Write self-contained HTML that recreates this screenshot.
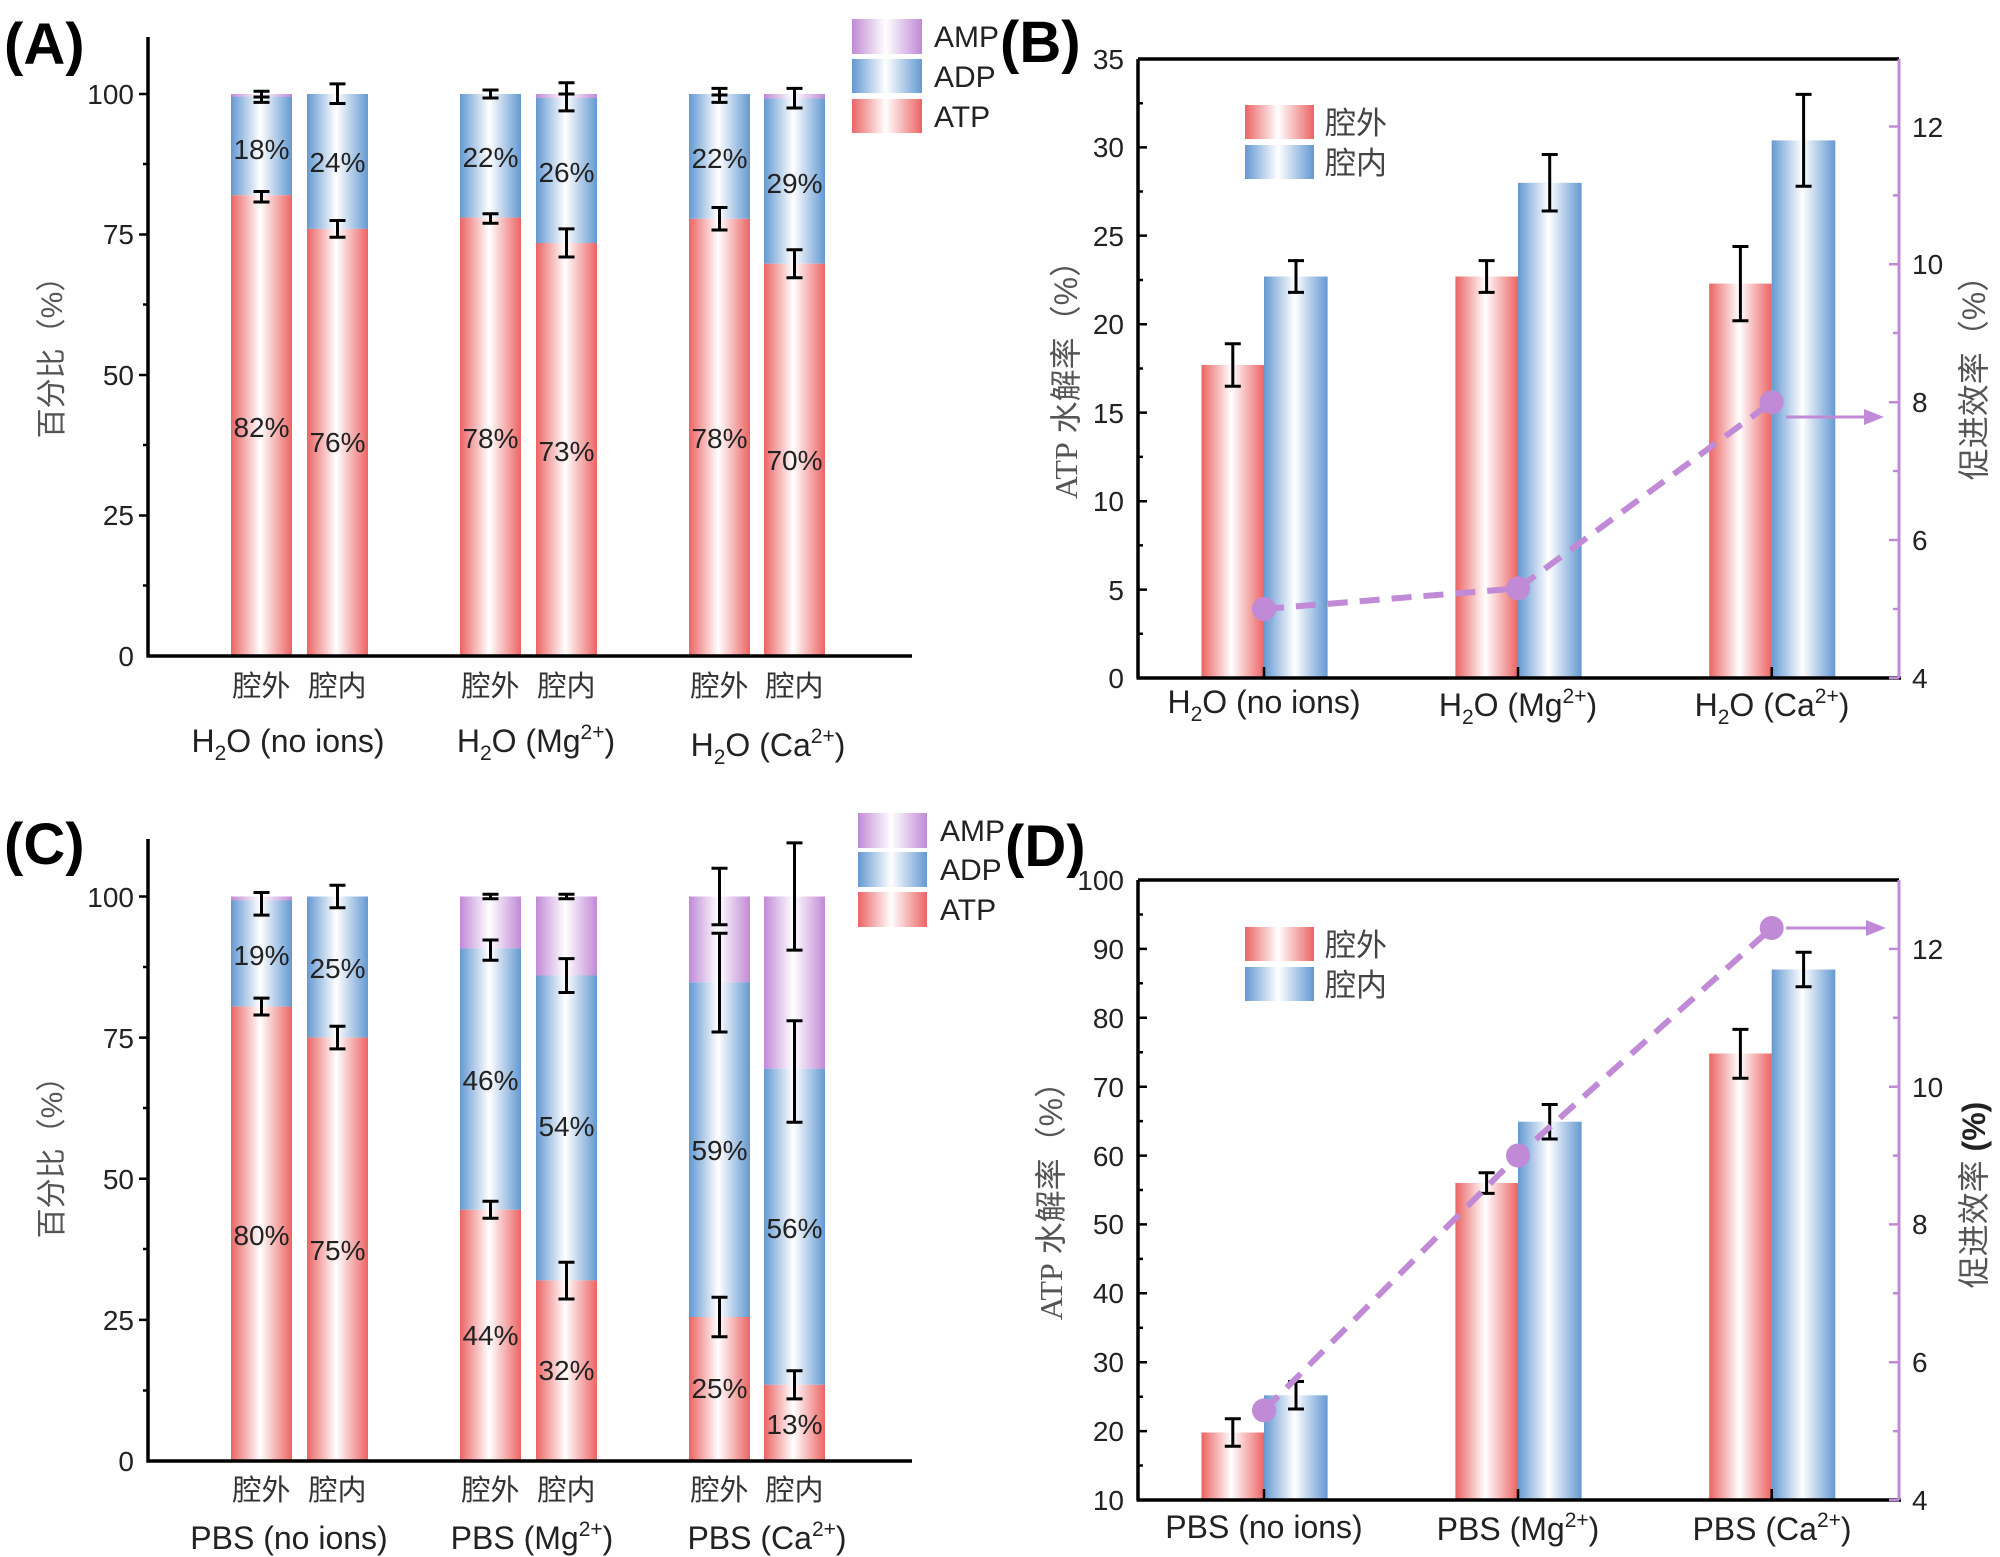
<!DOCTYPE html>
<html><head><meta charset="utf-8"><style>
html,body{margin:0;padding:0;background:#fff}
svg{display:block}
text{font-family:"Liberation Sans","Noto Sans CJK SC",sans-serif}
</style></head><body>
<svg width="2000" height="1557" viewBox="0 0 2000 1557" xmlns="http://www.w3.org/2000/svg">
<defs>
<linearGradient id="gr" x1="0" x2="1" y1="0" y2="0"><stop offset="0" stop-color="#ec6464"/><stop offset="0.48" stop-color="#fff"/><stop offset="1" stop-color="#ec6464"/></linearGradient>
<linearGradient id="gb" x1="0" x2="1" y1="0" y2="0"><stop offset="0" stop-color="#6499d2"/><stop offset="0.48" stop-color="#fff"/><stop offset="1" stop-color="#6499d2"/></linearGradient>
<linearGradient id="gp" x1="0" x2="1" y1="0" y2="0"><stop offset="0" stop-color="#c08ad6"/><stop offset="0.48" stop-color="#fff"/><stop offset="1" stop-color="#c08ad6"/></linearGradient>
</defs>

<!-- ========== Panel A ========== -->
<text x="4" y="64" font-size="58" font-weight="bold">(A)</text>
<g>
<rect x="231" y="94" width="61" height="3" fill="url(#gp)"/>
<rect x="231" y="96.8" width="61" height="98.4" fill="url(#gb)"/>
<rect x="231" y="195.2" width="61" height="460.8" fill="url(#gr)"/>
<rect x="307" y="94" width="61" height="134.9" fill="url(#gb)"/>
<rect x="307" y="228.9" width="61" height="427.1" fill="url(#gr)"/>
<rect x="460" y="94" width="61" height="123.6" fill="url(#gb)"/>
<rect x="460" y="217.6" width="61" height="438.4" fill="url(#gr)"/>
<rect x="536" y="94" width="61" height="4" fill="url(#gp)"/>
<rect x="536" y="98" width="61" height="145" fill="url(#gb)"/>
<rect x="536" y="243" width="61" height="413" fill="url(#gr)"/>
<rect x="689" y="94" width="61" height="124.8" fill="url(#gb)"/>
<rect x="689" y="218.8" width="61" height="437.2" fill="url(#gr)"/>
<rect x="764" y="94" width="61" height="4.5" fill="url(#gp)"/>
<rect x="764" y="98.5" width="61" height="165.2" fill="url(#gb)"/>
<rect x="764" y="263.7" width="61" height="392.3" fill="url(#gr)"/>
</g>
<g stroke="#000" stroke-width="3" fill="none">
<path d="M261.5 91.2V102.4M253.5 91.2H269.5M253.5 102.4H269.5M253.5 97H269.5"/>
<path d="M261.5 191.5V202M253.5 191.5H269.5M253.5 202H269.5"/>
<path d="M337.5 83.9V103.5M329.5 83.9H345.5M329.5 103.5H345.5"/>
<path d="M337.5 220.5V237.3M329.5 220.5H345.5M329.5 237.3H345.5"/>
<path d="M490.5 90V98M482.5 90H498.5M482.5 98H498.5"/>
<path d="M490.5 213.7V223.3M482.5 213.7H498.5M482.5 223.3H498.5"/>
<path d="M566.5 82.8V110.9M558.5 82.8H574.5M558.5 110.9H574.5M558.5 94H574.5"/>
<path d="M566.5 228.9V257M558.5 228.9H574.5M558.5 257H574.5"/>
<path d="M719.5 88.4V102.4M711.5 88.4H727.5M711.5 102.4H727.5M711.5 95H727.5"/>
<path d="M719.5 207.5V230M711.5 207.5H727.5M711.5 230H727.5"/>
<path d="M794.5 88.4V108M786.5 88.4H802.5M786.5 108H802.5"/>
<path d="M794.5 249.7V277.8M786.5 249.7H802.5M786.5 277.8H802.5"/>
</g>
<g font-size="28" text-anchor="middle" fill="#222">
<text x="261.5" y="159">18%</text><text x="337.5" y="172">24%</text>
<text x="490.5" y="167">22%</text><text x="566.5" y="182">26%</text>
<text x="719.5" y="168">22%</text><text x="794.5" y="193">29%</text>
<text x="261.5" y="437">82%</text><text x="337.5" y="452">76%</text>
<text x="490.5" y="448">78%</text><text x="566.5" y="461">73%</text>
<text x="719.5" y="448">78%</text><text x="794.5" y="470">70%</text>
</g>
<g stroke="#000" stroke-width="3.5" fill="none">
<path d="M148 37V657.5M146.5 656H912"/>
<path d="M139 94H148M139 234.5H148M139 375H148M139 515.5H148M143 164H148M143 304.5H148M143 445H148M143 585.5H148" stroke-width="2.5"/>
</g>
<g font-size="28" text-anchor="end" fill="#222">
<text x="134" y="104">100</text><text x="134" y="244">75</text><text x="134" y="385">50</text><text x="134" y="525">25</text><text x="134" y="666">0</text>
</g>
<text transform="translate(62,350) rotate(-90)" font-size="30" text-anchor="middle" fill="#555">百分比（%）</text>
<g font-size="29" text-anchor="middle" fill="#333">
<text x="261.5" y="696">腔外</text><text x="337.5" y="696">腔内</text>
<text x="490.5" y="696">腔外</text><text x="566.5" y="696">腔内</text>
<text x="719.5" y="696">腔外</text><text x="794.5" y="696">腔内</text>
</g>
<g font-size="32" text-anchor="middle" fill="#222">
<text x="288" y="752">H<tspan font-size="21" dy="8">2</tspan><tspan dy="-8">O (no ions)</tspan></text>
<text x="536" y="752">H<tspan font-size="21" dy="8">2</tspan><tspan dy="-8">O (Mg</tspan><tspan font-size="21" dy="-13">2+</tspan><tspan dy="13">)</tspan></text>
<text x="768" y="756">H<tspan font-size="21" dy="8">2</tspan><tspan dy="-8">O (Ca</tspan><tspan font-size="21" dy="-13">2+</tspan><tspan dy="13">)</tspan></text>
</g>
<rect x="852" y="19" width="70" height="35" fill="url(#gp)"/>
<rect x="852" y="59" width="70" height="34" fill="url(#gb)"/>
<rect x="852" y="99" width="70" height="34" fill="url(#gr)"/>
<g font-size="30" fill="#222"><text x="934" y="47">AMP</text><text x="934" y="87">ADP</text><text x="934" y="127">ATP</text></g>

<!-- ========== Panel B ========== -->
<g>
<rect x="1201.5" y="365" width="62.5" height="313" fill="url(#gr)"/>
<rect x="1264" y="276.5" width="63.6" height="401.5" fill="url(#gb)"/>
<rect x="1455.4" y="276.5" width="62.6" height="401.5" fill="url(#gr)"/>
<rect x="1518" y="182.8" width="63.6" height="495.2" fill="url(#gb)"/>
<rect x="1709.2" y="283.6" width="62.5" height="394.4" fill="url(#gr)"/>
<rect x="1771.7" y="140.4" width="63.6" height="537.6" fill="url(#gb)"/>
</g>
<g stroke="#000" stroke-width="3" fill="none">
<path d="M1232.8 343.7V386.2M1224.8 343.7H1240.8M1224.8 386.2H1240.8"/>
<path d="M1296 260.6V292.4M1288 260.6H1304M1288 292.4H1304"/>
<path d="M1486.6 260.6V292.4M1478.6 260.6H1494.6M1478.6 292.4H1494.6"/>
<path d="M1549.7 154.5V211M1541.7 154.5H1557.7M1541.7 211H1557.7"/>
<path d="M1740.4 246.5V320.7M1732.4 246.5H1748.4M1732.4 320.7H1748.4"/>
<path d="M1803.6 94.4V186.3M1795.6 94.4H1811.6M1795.6 186.3H1811.6"/>
</g>
<polyline points="1264,609 1518,588.4 1771.7,402.2" fill="none" stroke="#c08ad6" stroke-width="6" stroke-dasharray="20 12"/>
<g fill="#c08ad6"><circle cx="1264" cy="609" r="12"/><circle cx="1518" cy="588.4" r="12"/><circle cx="1771.7" cy="402.2" r="12"/></g>
<path d="M1786 417H1868" stroke="#c08ad6" stroke-width="3"/><path d="M1864 409L1884 417L1864 425Z" fill="#c08ad6"/>
<g stroke="#000" stroke-width="3.5" fill="none">
<path d="M1138 59V678M1136.5 678H1901M1138 59H1899"/>
<path d="M1138 589.6H1147M1138 501.2H1147M1138 412.6H1147M1138 324.3H1147M1138 235.6H1147M1138 147.4H1147M1138 633.8H1143M1138 545.4H1143M1138 456.9H1143M1138 368.5H1143M1138 280H1143M1138 191.5H1143M1138 103.2H1143M1264 678V667M1518 678V667M1771.7 678V667" stroke-width="2.5"/>
</g>
<g stroke="#c08ad6" stroke-width="3" fill="none">
<path d="M1899 59V678"/>
<path d="M1889 678H1899M1889 540H1899M1889 402.2H1899M1889 264.3H1899M1889 126.5H1899M1893 609H1899M1893 471H1899M1893 333H1899M1893 195.4H1899" stroke-width="2.5"/>
</g>
<g font-size="28" text-anchor="end" fill="#222">
<text x="1124" y="688">0</text><text x="1124" y="600">5</text><text x="1124" y="511">10</text><text x="1124" y="423">15</text><text x="1124" y="334">20</text><text x="1124" y="246">25</text><text x="1124" y="157">30</text><text x="1124" y="69">35</text>
</g>
<g font-size="28" fill="#222">
<text x="1912" y="688">4</text><text x="1912" y="550">6</text><text x="1912" y="412">8</text><text x="1912" y="274">10</text><text x="1912" y="137">12</text>
</g>
<text x="1000" y="62" font-size="58" font-weight="bold">(B)</text>
<rect x="1245" y="105" width="69" height="34" fill="url(#gr)"/>
<rect x="1245" y="145" width="69" height="34" fill="url(#gb)"/>
<g font-size="31" fill="#444"><text x="1325" y="134">腔外</text><text x="1325" y="174">腔内</text></g>
<g font-size="32" text-anchor="middle" fill="#222">
<text x="1264" y="713">H<tspan font-size="21" dy="8">2</tspan><tspan dy="-8">O (no ions)</tspan></text>
<text x="1518" y="716">H<tspan font-size="21" dy="8">2</tspan><tspan dy="-8">O (Mg</tspan><tspan font-size="21" dy="-13">2+</tspan><tspan dy="13">)</tspan></text>
<text x="1772" y="716">H<tspan font-size="21" dy="8">2</tspan><tspan dy="-8">O (Ca</tspan><tspan font-size="21" dy="-13">2+</tspan><tspan dy="13">)</tspan></text>
</g>
<text transform="translate(1077,372) rotate(-90)" font-size="32" text-anchor="middle" fill="#555"><tspan font-family="Liberation Serif">ATP</tspan> 水解率（%）</text>
<text transform="translate(1985,370) rotate(-90)" font-size="32" text-anchor="middle" fill="#555">促进效率（%）</text>

<!-- ========== Panel C ========== -->
<text x="4" y="864" font-size="58" font-weight="bold">(C)</text>
<g>
<rect x="231" y="896.5" width="61" height="4" fill="url(#gp)"/>
<rect x="231" y="900.4" width="61" height="106.2" fill="url(#gb)"/>
<rect x="231" y="1006.6" width="61" height="454.4" fill="url(#gr)"/>
<rect x="307" y="896.5" width="61" height="141.1" fill="url(#gb)"/>
<rect x="307" y="1037.6" width="61" height="423.4" fill="url(#gr)"/>
<rect x="460" y="896.5" width="61" height="51.9" fill="url(#gp)"/>
<rect x="460" y="948.4" width="61" height="261.4" fill="url(#gb)"/>
<rect x="460" y="1209.8" width="61" height="251.2" fill="url(#gr)"/>
<rect x="536" y="896.5" width="61" height="79" fill="url(#gp)"/>
<rect x="536" y="975.5" width="61" height="304.9" fill="url(#gb)"/>
<rect x="536" y="1280.4" width="61" height="180.6" fill="url(#gr)"/>
<rect x="689" y="896.5" width="61" height="85.8" fill="url(#gp)"/>
<rect x="689" y="982.3" width="61" height="334.7" fill="url(#gb)"/>
<rect x="689" y="1317" width="61" height="144" fill="url(#gr)"/>
<rect x="764" y="896.5" width="61" height="172.2" fill="url(#gp)"/>
<rect x="764" y="1068.7" width="61" height="316.1" fill="url(#gb)"/>
<rect x="764" y="1384.8" width="61" height="76.2" fill="url(#gr)"/>
</g>
<g stroke="#000" stroke-width="3" fill="none">
<path d="M261.5 892.5V915.1M253.5 892.5H269.5M253.5 915.1H269.5"/>
<path d="M261.5 998.1V1015M253.5 998.1H269.5M253.5 1015H269.5"/>
<path d="M337.5 885.2V907.8M329.5 885.2H345.5M329.5 907.8H345.5"/>
<path d="M337.5 1026.3V1048.9M329.5 1026.3H345.5M329.5 1048.9H345.5"/>
<path d="M490.5 894.3V898.8M482.5 894.3H498.5M482.5 898.8H498.5"/>
<path d="M490.5 940V960.3M482.5 940H498.5M482.5 960.3H498.5"/>
<path d="M490.5 1201.3V1218.3M482.5 1201.3H498.5M482.5 1218.3H498.5"/>
<path d="M566.5 894.3V898.8M558.5 894.3H574.5M558.5 898.8H574.5"/>
<path d="M566.5 958.6V992.5M558.5 958.6H574.5M558.5 992.5H574.5"/>
<path d="M566.5 1262.3V1299M558.5 1262.3H574.5M558.5 1299H574.5"/>
<path d="M719.5 868.3V924.7M711.5 868.3H727.5M711.5 924.7H727.5"/>
<path d="M719.5 933.2V1032M711.5 933.2H727.5M711.5 1032H727.5"/>
<path d="M719.5 1297.3V1336.8M711.5 1297.3H727.5M711.5 1336.8H727.5"/>
<path d="M794.5 842.9V950.1M786.5 842.9H802.5M786.5 950.1H802.5"/>
<path d="M794.5 1020.7V1122.3M786.5 1020.7H802.5M786.5 1122.3H802.5"/>
<path d="M794.5 1370.7V1398.9M786.5 1370.7H802.5M786.5 1398.9H802.5"/>
</g>
<g font-size="28" text-anchor="middle" fill="#222">
<text x="261.5" y="965">19%</text><text x="337.5" y="978">25%</text>
<text x="261.5" y="1245">80%</text><text x="337.5" y="1260">75%</text>
<text x="490.5" y="1090">46%</text><text x="566.5" y="1136">54%</text>
<text x="490.5" y="1345">44%</text><text x="566.5" y="1380">32%</text>
<text x="719.5" y="1160">59%</text><text x="794.5" y="1238">56%</text>
<text x="719.5" y="1398">25%</text><text x="794.5" y="1434">13%</text>
</g>
<g stroke="#000" stroke-width="3.5" fill="none">
<path d="M148 839V1462.5M146.5 1461H912"/>
<path d="M139 896.5H148M139 1037.6H148M139 1178.7H148M139 1319.9H148M143 967H148M143 1108H148M143 1249H148M143 1390.5H148" stroke-width="2.5"/>
</g>
<g font-size="28" text-anchor="end" fill="#222">
<text x="134" y="907">100</text><text x="134" y="1048">75</text><text x="134" y="1189">50</text><text x="134" y="1330">25</text><text x="134" y="1471">0</text>
</g>
<text transform="translate(62,1150) rotate(-90)" font-size="30" text-anchor="middle" fill="#555">百分比（%）</text>
<g font-size="29" text-anchor="middle" fill="#333">
<text x="261.5" y="1500">腔外</text><text x="337.5" y="1500">腔内</text>
<text x="490.5" y="1500">腔外</text><text x="566.5" y="1500">腔内</text>
<text x="719.5" y="1500">腔外</text><text x="794.5" y="1500">腔内</text>
</g>
<g font-size="32" text-anchor="middle" fill="#222">
<text x="289" y="1549">PBS (no ions)</text>
<text x="532" y="1549">PBS (Mg<tspan font-size="21" dy="-13">2+</tspan><tspan dy="13">)</tspan></text>
<text x="767" y="1549">PBS (Ca<tspan font-size="21" dy="-13">2+</tspan><tspan dy="13">)</tspan></text>
</g>
<rect x="858" y="813" width="69" height="35" fill="url(#gp)"/>
<rect x="858" y="852" width="69" height="35" fill="url(#gb)"/>
<rect x="858" y="892" width="69" height="35" fill="url(#gr)"/>
<g font-size="30" fill="#222"><text x="940" y="841">AMP</text><text x="940" y="880">ADP</text><text x="940" y="920">ATP</text></g>

<!-- ========== Panel D ========== -->
<g>
<rect x="1201.5" y="1432.5" width="62.5" height="67.5" fill="url(#gr)"/>
<rect x="1264" y="1395.3" width="63.6" height="104.7" fill="url(#gb)"/>
<rect x="1455.4" y="1183" width="62.6" height="317" fill="url(#gr)"/>
<rect x="1518" y="1121.7" width="63.6" height="378.3" fill="url(#gb)"/>
<rect x="1709.2" y="1053.5" width="62.5" height="446.5" fill="url(#gr)"/>
<rect x="1771.7" y="969.5" width="63.6" height="530.5" fill="url(#gb)"/>
</g>
<g stroke="#000" stroke-width="3" fill="none">
<path d="M1232.8 1418.7V1446.3M1224.8 1418.7H1240.8M1224.8 1446.3H1240.8"/>
<path d="M1296 1381.5V1409M1288 1381.5H1304M1288 1409H1304"/>
<path d="M1486.6 1172.7V1193.4M1478.6 1172.7H1494.6M1478.6 1193.4H1494.6"/>
<path d="M1549.7 1104.5V1139M1541.7 1104.5H1557.7M1541.7 1139H1557.7"/>
<path d="M1740.4 1029.4V1078.3M1732.4 1029.4H1748.4M1732.4 1078.3H1748.4"/>
<path d="M1803.6 952.2V986.7M1795.6 952.2H1811.6M1795.6 986.7H1811.6"/>
</g>
<polyline points="1264,1410.4 1518,1155.5 1771.7,928" fill="none" stroke="#c08ad6" stroke-width="6" stroke-dasharray="20 12"/>
<g fill="#c08ad6"><circle cx="1264" cy="1410.4" r="12"/><circle cx="1518" cy="1155.5" r="12"/><circle cx="1771.7" cy="928" r="12"/></g>
<path d="M1786 928H1870" stroke="#c08ad6" stroke-width="3"/><path d="M1866 920L1886 928L1866 936Z" fill="#c08ad6"/>
<g stroke="#000" stroke-width="3.5" fill="none">
<path d="M1138 880V1500M1136.5 1500H1901M1138 880H1899"/>
<path d="M1138 1431.1H1147M1138 1362.2H1147M1138 1293.3H1147M1138 1224.4H1147M1138 1155.6H1147M1138 1086.7H1147M1138 1017.8H1147M1138 948.9H1147M1138 1465.5H1143M1138 1396.7H1143M1138 1327.8H1143M1138 1258.9H1143M1138 1190H1143M1138 1121.1H1143M1138 1052.2H1143M1138 983.3H1143M1138 914.5H1143M1264 1500V1489M1518 1500V1489M1771.7 1500V1489" stroke-width="2.5"/>
</g>
<g stroke="#c08ad6" stroke-width="3" fill="none">
<path d="M1899 880V1500"/>
<path d="M1889 1500H1899M1889 1362.2H1899M1889 1224.4H1899M1889 1086.7H1899M1889 948.9H1899M1893 1431.1H1899M1893 1293.3H1899M1893 1155.6H1899M1893 1017.8H1899" stroke-width="2.5"/>
</g>
<g font-size="28" text-anchor="end" fill="#222">
<text x="1124" y="1510">10</text><text x="1124" y="1441">20</text><text x="1124" y="1372">30</text><text x="1124" y="1303">40</text><text x="1124" y="1234">50</text><text x="1124" y="1166">60</text><text x="1124" y="1097">70</text><text x="1124" y="1028">80</text><text x="1124" y="959">90</text><text x="1124" y="890">100</text>
</g>
<g font-size="28" fill="#222">
<text x="1912" y="1510">4</text><text x="1912" y="1372">6</text><text x="1912" y="1234">8</text><text x="1912" y="1097">10</text><text x="1912" y="959">12</text>
</g>
<text x="1005" y="866" font-size="58" font-weight="bold">(D)</text>
<rect x="1245" y="927" width="69" height="34" fill="url(#gr)"/>
<rect x="1245" y="967" width="69" height="34" fill="url(#gb)"/>
<g font-size="31" fill="#444"><text x="1325" y="956">腔外</text><text x="1325" y="996">腔内</text></g>
<g font-size="32" text-anchor="middle" fill="#222">
<text x="1264" y="1538">PBS (no ions)</text>
<text x="1518" y="1540">PBS (Mg<tspan font-size="21" dy="-13">2+</tspan><tspan dy="13">)</tspan></text>
<text x="1772" y="1540">PBS (Ca<tspan font-size="21" dy="-13">2+</tspan><tspan dy="13">)</tspan></text>
</g>
<text transform="translate(1062,1193) rotate(-90)" font-size="32" text-anchor="middle" fill="#555"><tspan font-family="Liberation Serif">ATP</tspan> 水解率（%）</text>
<text transform="translate(1985,1195) rotate(-90)" font-size="32" text-anchor="middle" fill="#555">促进效率 <tspan font-weight="bold" fill="#222">(%)</tspan></text>
</svg>
</body></html>
